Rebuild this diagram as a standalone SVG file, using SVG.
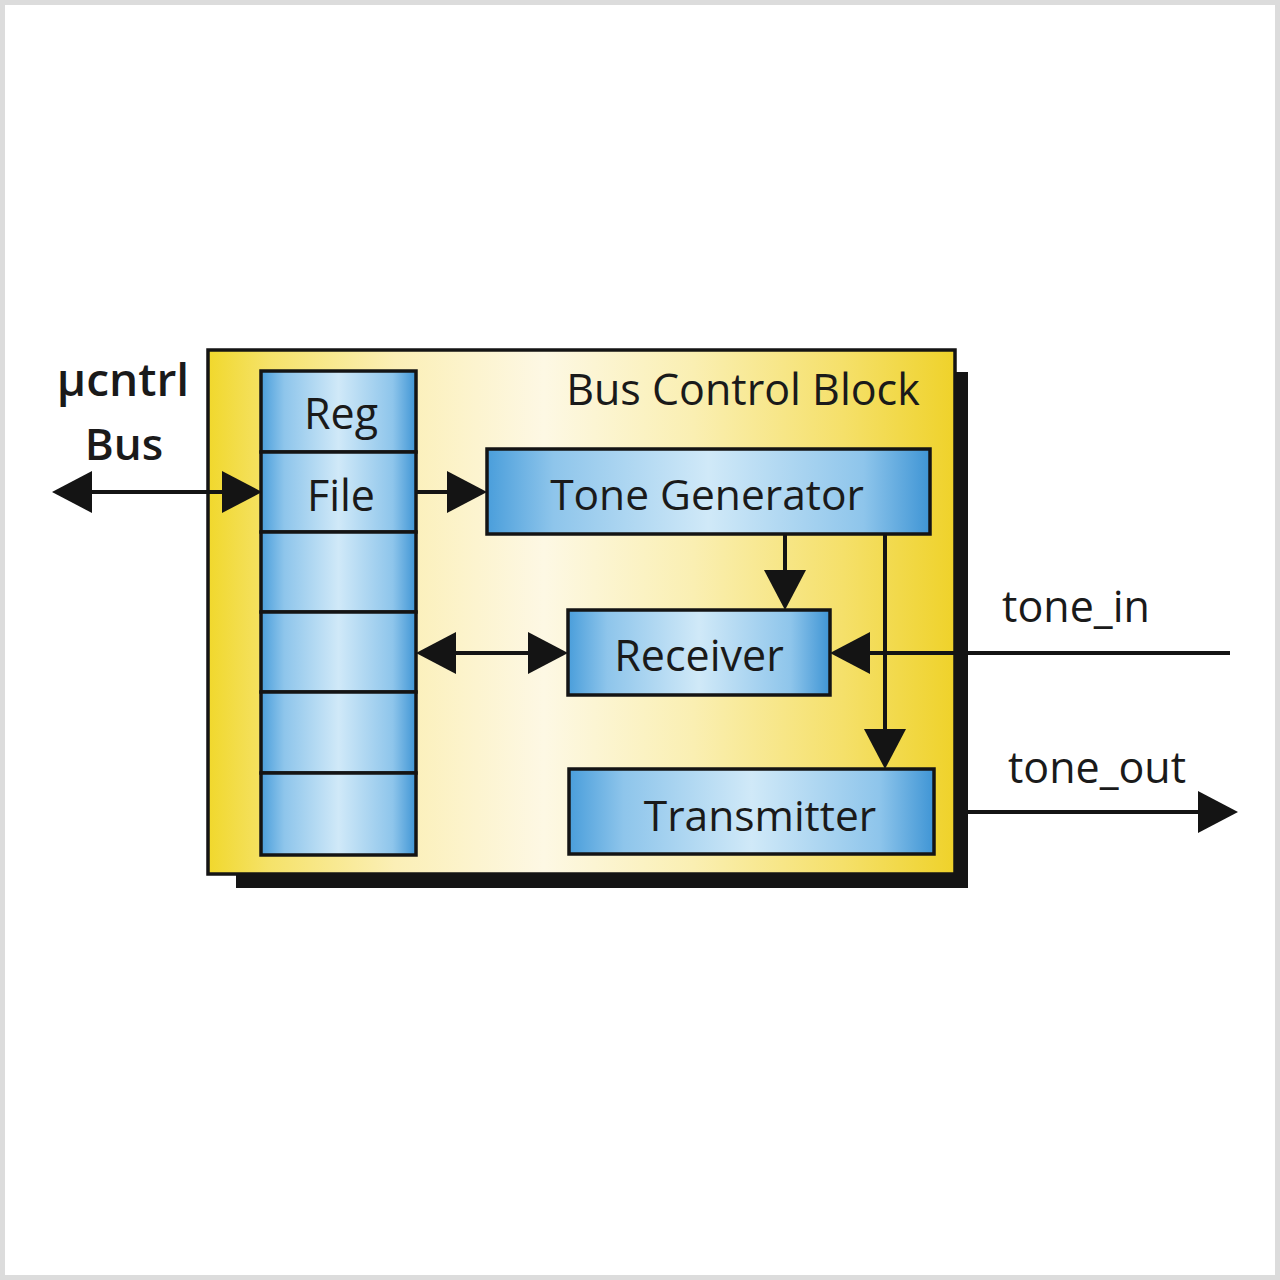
<svg xmlns="http://www.w3.org/2000/svg" width="1280" height="1280" viewBox="0 0 1280 1280">
<style>
.box{stroke:#141414;stroke-width:3.5}
.lbl{font-family:"Open Sans","Liberation Sans",sans-serif;fill:#1a1a1a;text-anchor:middle}
.wire{stroke:#141414;stroke-width:4;fill:none}
</style>
<defs>
<linearGradient id="yel" x1="0" y1="0" x2="1" y2="0">
<stop offset="0" stop-color="#f1d82c"/>
<stop offset="0.08" stop-color="#f5e268"/>
<stop offset="0.25" stop-color="#fbefb6"/>
<stop offset="0.45" stop-color="#fdf8e4"/>
<stop offset="0.65" stop-color="#faefb2"/>
<stop offset="0.85" stop-color="#f5e06a"/>
<stop offset="1" stop-color="#efd22a"/>
</linearGradient>
<linearGradient id="blu" x1="0" y1="0" x2="1" y2="0">
<stop offset="0" stop-color="#4a9edb"/>
<stop offset="0.15" stop-color="#8ec5eb"/>
<stop offset="0.5" stop-color="#d0e9f8"/>
<stop offset="0.85" stop-color="#8ec5eb"/>
<stop offset="1" stop-color="#3f95d5"/>
</linearGradient>
<marker id="ah" viewBox="0 0 40 42" refX="30" refY="21" markerWidth="40" markerHeight="42" markerUnits="userSpaceOnUse" orient="auto-start-reverse">
<path d="M0,0 L40,21 L0,42 Z" fill="#141414"/>
</marker>
</defs>
<rect x="2.5" y="2.5" width="1275" height="1275" fill="#ffffff" stroke="#dcdcdc" stroke-width="5"/>

<g id="bus-control-block">
<rect x="236" y="372" width="732" height="516" fill="#141414"/>
<rect class="box" x="208" y="350" width="747" height="524" fill="url(#yel)"/>
<text class="lbl" x="743" y="405" font-size="43">Bus Control Block</text>
</g>

<g id="reg-file">
<rect class="box" x="261" y="371" width="155" height="81" fill="url(#blu)"/>
<rect class="box" x="261" y="452" width="155" height="80" fill="url(#blu)"/>
<rect class="box" x="261" y="532" width="155" height="80" fill="url(#blu)"/>
<rect class="box" x="261" y="612" width="155" height="80" fill="url(#blu)"/>
<rect class="box" x="261" y="692" width="155" height="81" fill="url(#blu)"/>
<rect class="box" x="261" y="773" width="155" height="82" fill="url(#blu)"/>
<text class="lbl" x="341" y="429" font-size="43">Reg</text>
<text class="lbl" x="341" y="511" font-size="43">File</text>
</g>

<g id="tone-generator">
<rect class="box" x="487" y="449" width="443" height="85" fill="url(#blu)"/>
<text class="lbl" x="707" y="510" font-size="42.5">Tone Generator</text>
</g>

<g id="receiver">
<rect class="box" x="568" y="610" width="262" height="85" fill="url(#blu)"/>
<text class="lbl" x="699" y="671" font-size="43">Receiver</text>
</g>

<g id="transmitter">
<rect class="box" x="569" y="769" width="365" height="85" fill="url(#blu)"/>
<text class="lbl" x="760" y="831" font-size="42.5">Transmitter</text>
</g>

<g id="labels">
<text class="lbl" x="123" y="396" font-size="46" font-weight="600">μcntrl</text>
<text class="lbl" x="124" y="460" font-size="44" font-weight="600">Bus</text>
<text class="lbl" x="1076" y="622" font-size="43">tone_in</text>
<text class="lbl" x="1097" y="783" font-size="43">tone_out</text>
</g>

<g id="connectors">
<line class="wire" x1="62" y1="492" x2="252" y2="492" marker-start="url(#ah)" marker-end="url(#ah)"/>
<line class="wire" x1="416" y1="492" x2="477" y2="492" marker-end="url(#ah)"/>
<line class="wire" x1="426" y1="653" x2="558" y2="653" marker-start="url(#ah)" marker-end="url(#ah)"/>
<line class="wire" x1="785" y1="534" x2="785" y2="600" marker-end="url(#ah)"/>
<line class="wire" x1="885" y1="534" x2="885" y2="759" marker-end="url(#ah)"/>
<line class="wire" x1="1230" y1="653" x2="840" y2="653" marker-end="url(#ah)"/>
<line class="wire" x1="955" y1="812" x2="1228" y2="812" marker-end="url(#ah)"/>
</g>
</svg>
